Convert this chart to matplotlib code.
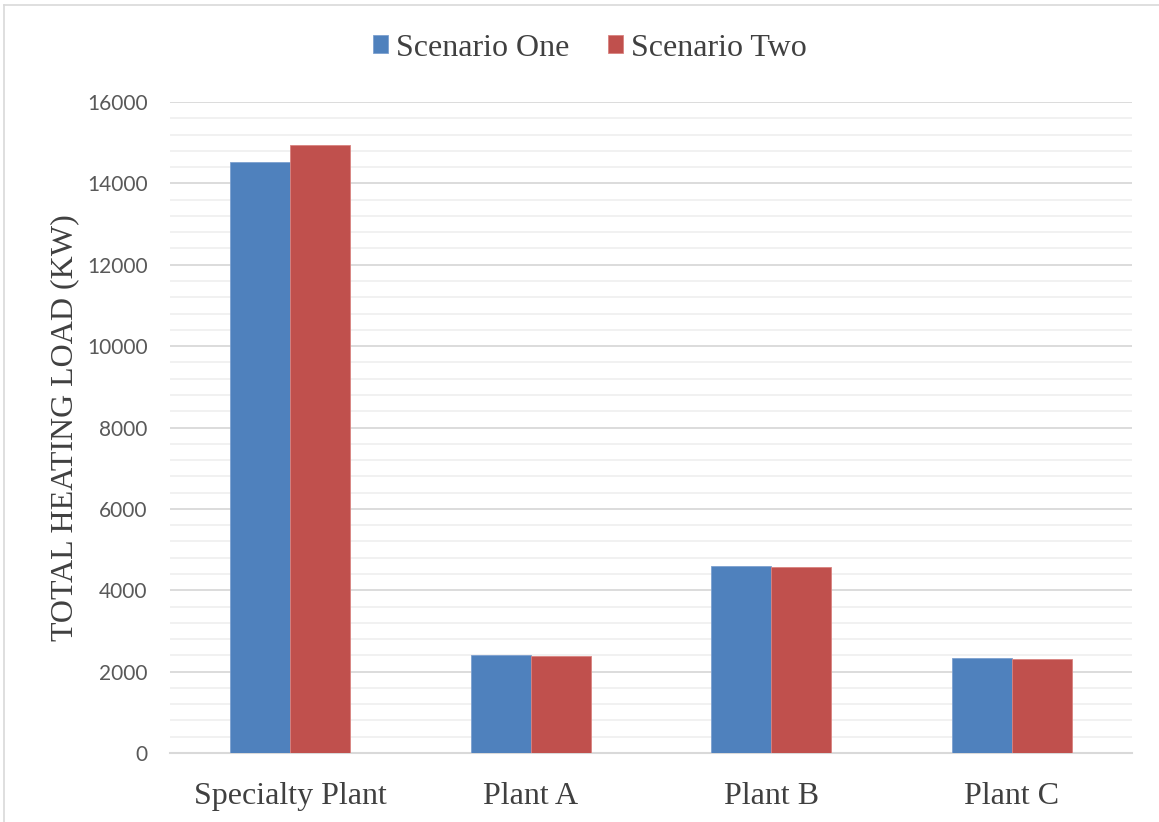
import matplotlib.pyplot as plt
from matplotlib.lines import Line2D
from matplotlib.ticker import MultipleLocator
import numpy as np

plants = ["Specialty Plant", "Plant A", "Plant B", "Plant C"]
scenario_one = [14530, 2410, 4600, 2340]
scenario_two = [14940, 2390, 4570, 2315]
series_names = ["Scenario One", "Scenario Two"]

blue = "#4f81bd"
red = "#c0504d"
serif = ["Liberation Serif", "DejaVu Serif"]

fig = plt.figure(figsize=(11.59, 8.22), dpi=100)
ax = fig.add_axes([170 / 1159, 1 - 753 / 822, (1132 - 170) / 1159, (753 - 102) / 822])

x = np.arange(len(plants))
w = 0.25
ax.bar(x - w / 2, scenario_one, w, color=blue, edgecolor="#7da0cf", linewidth=0.6,
       label=series_names[0], zorder=3)
ax.bar(x + w / 2, scenario_two, w, color=red, edgecolor="#d9827f", linewidth=0.6,
       label=series_names[1], zorder=3)

ax.set_xlim(-0.5, len(plants) - 0.5)
ax.set_ylim(0, 16000)
ax.yaxis.set_major_locator(MultipleLocator(2000))
ax.yaxis.set_minor_locator(MultipleLocator(400))
ax.grid(which="major", axis="y", color="#d9d9d9", linewidth=1.3, zorder=0)
ax.grid(which="minor", axis="y", color="#f0f0f0", linewidth=1.3, zorder=0)

for s in ["top", "right", "left"]:
    ax.spines[s].set_visible(False)
ax.spines["bottom"].set_color("#d9d9d9")
ax.spines["bottom"].set_linewidth(1.5)

ax.tick_params(axis="both", which="both", length=0)
ax.tick_params(axis="y", labelsize=15, labelcolor="#595959", pad=16)
ax.set_xticks(x)
ax.set_xticklabels(plants, fontfamily=serif, fontsize=23, color="#404040")
ax.tick_params(axis="x", pad=21)
for lbl in ax.get_yticklabels():
    lbl.set_fontfamily(["Lato", "DejaVu Sans"])

ax.set_ylabel("TOTAL HEATING LOAD (KW)", fontfamily=serif, fontsize=23,
              color="#404040", labelpad=6)

leg = fig.legend(loc="center", bbox_to_anchor=(590 / 1159, 1 - 48 / 822), ncol=2,
                 frameon=False, prop={"family": serif, "size": 23},
                 handlelength=0.47, handleheight=0.47, handletextpad=0.25,
                 columnspacing=1.2, labelcolor="#404040")

# chart area border (left and top edges)
fig.add_artist(Line2D([4 / 1159, 4 / 1159], [0, 1 - 5 / 822], color="#d9d9d9", linewidth=1.2))
fig.add_artist(Line2D([4 / 1159, 1], [1 - 5 / 822, 1 - 5 / 822], color="#d9d9d9", linewidth=1.2))

fig.savefig("out.png", dpi=100, facecolor="white")
